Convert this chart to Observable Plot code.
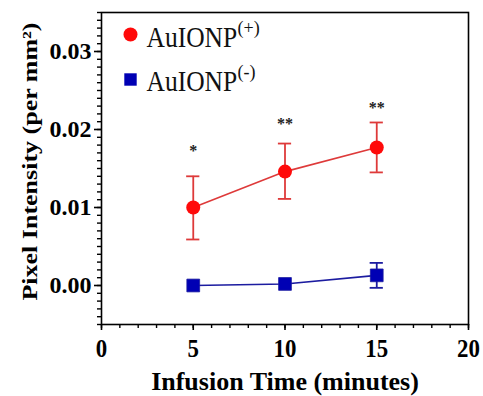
<!DOCTYPE html>
<html>
<head>
<meta charset="utf-8">
<script src="https://cdn.jsdelivr.net/npm/d3@7"></script>
<script src="https://cdn.jsdelivr.net/npm/@observablehq/plot@0.6"></script>
<style>
  html, body { margin: 0; padding: 0; background: #fff; }
  #chart svg { display: block; }
</style>
</head>
<body>
<div id="chart"></div>
<script>
// ---- data ----
const times = [5, 10, 15];
const seriesNames = ["AuIONP", "AuIONP"];
const seriesSup = ["(+)", "(-)"];
const posMean = [0.0100, 0.0146, 0.0177];
const posLow  = [0.0059, 0.0111, 0.0145];
const posHigh = [0.0140, 0.0182, 0.0209];
const negMean = [0.0000, 0.0002, 0.0013];
const negLow  = [0.0000, 0.0002, -0.0003];
const negHigh = [0.0000, 0.0002, 0.0029];
const stars   = ["*", "**", "**"];
const starY   = [0.0172, 0.0207, 0.0228];
const xTicks = [0, 5, 10, 15, 20];
const yTicks = [0.00, 0.01, 0.02, 0.03];
const xLabel = "Infusion Time (minutes)";
const yLabel = "Pixel Intensity (per mm²)";

const pos = times.map((t, i) => ({x: t, y: posMean[i], lo: posLow[i], hi: posHigh[i]}));
const neg = times.map((t, i) => ({x: t, y: negMean[i], lo: negLow[i], hi: negHigh[i]}));
const negErr = neg.filter(d => d.hi > d.lo);
const starData = times.map((t, i) => ({x: t, y: starY[i], s: stars[i]}));
const xMinor = d3.range(0, 20.001, 1);
const yMinor = d3.range(-5, 36, 1).map(v => v / 1000);

const RED = "#ff0a0a", REDLINE = "#de3a3a";
const BLUE = "#0000b4", BLUELINE = "#1c1ca0";
const FONT = "'Liberation Serif', 'Times New Roman', serif";
const capHalf = 0.36;
const fmtY = d3.format(".2f");
const fmtX = d3.format("d");

const chart = Plot.plot({
  width: 483,
  height: 396,
  marginLeft: 101,
  marginRight: 15,
  marginTop: 12,
  marginBottom: 72,
  style: {fontFamily: FONT, background: "#fff", color: "#000"},
  x: {domain: [0, 20], label: null},
  y: {domain: [-0.005, 0.035], label: null},
  marks: [
    Plot.frame({stroke: "#000", strokeWidth: 1.6}),
    Plot.axisY({ticks: yMinor, tickSize: 4, tickFormat: () => "", strokeWidth: 1.4}),
    Plot.axisY({ticks: yTicks, tickSize: 7, tickFormat: () => "", strokeWidth: 1.6}),
    Plot.axisX({ticks: xMinor, tickSize: 4, tickFormat: () => "", strokeWidth: 1.4}),
    Plot.axisX({ticks: xTicks, tickSize: 6, tickFormat: () => "", strokeWidth: 1.6}),
    // tick labels
    Plot.text(yTicks, {y: d => d, frameAnchor: "left", dx: -10, textAnchor: "end", lineAnchor: "middle",
      text: d => fmtY(d), fontSize: 24, fontWeight: "bold", fill: "#000"}),
    Plot.text(xTicks, {x: d => d, frameAnchor: "bottom", dy: 24, textAnchor: "middle", lineAnchor: "middle",
      text: d => fmtX(d), fontSize: 26, fontWeight: "bold", fill: "#000"}),
    // red series
    Plot.ruleX(pos, {x: "x", y1: "lo", y2: "hi", stroke: REDLINE, strokeWidth: 1.8}),
    Plot.ruleY(pos, {y: "lo", x1: d => d.x - capHalf, x2: d => d.x + capHalf, stroke: REDLINE, strokeWidth: 1.8}),
    Plot.ruleY(pos, {y: "hi", x1: d => d.x - capHalf, x2: d => d.x + capHalf, stroke: REDLINE, strokeWidth: 1.8}),
    Plot.line(pos, {x: "x", y: "y", stroke: REDLINE, strokeWidth: 1.6}),
    Plot.dot(pos, {x: "x", y: "y", r: 7, fill: RED, symbol: "circle"}),
    // blue series
    Plot.ruleX(negErr, {x: "x", y1: "lo", y2: "hi", stroke: BLUELINE, strokeWidth: 1.8}),
    Plot.ruleY(negErr, {y: "lo", x1: d => d.x - capHalf, x2: d => d.x + capHalf, stroke: BLUELINE, strokeWidth: 1.8}),
    Plot.ruleY(negErr, {y: "hi", x1: d => d.x - capHalf, x2: d => d.x + capHalf, stroke: BLUELINE, strokeWidth: 1.8}),
    Plot.line(neg, {x: "x", y: "y", stroke: BLUELINE, strokeWidth: 1.6}),
    Plot.dot(neg, {x: "x", y: "y", r: 7.2, fill: BLUE, stroke: BLUELINE, strokeWidth: 0.8, symbol: "square"}),
    // significance stars
    Plot.text(starData, {x: "x", y: "y", text: "s", fontSize: 16, fontWeight: "bold", fill: "#222"}),
    // legend
    Plot.dot([0], {frameAnchor: "top-left", dx: 29, dy: 22, r: 7, fill: RED, symbol: "circle"}),
    Plot.dot([0], {frameAnchor: "top-left", dx: 29, dy: 67, r: 7, fill: BLUE, symbol: "square"}),
    Plot.text([seriesNames[0]], {frameAnchor: "top-left", dx: 45, dy: 24.5, textAnchor: "start", lineAnchor: "middle", fontSize: 30, fill: "#111"}),
    Plot.text([seriesSup[0]], {frameAnchor: "top-left", dx: 136, dy: 16.2, textAnchor: "start", lineAnchor: "middle", fontSize: 18, fill: "#111"}),
    Plot.text([seriesNames[1]], {frameAnchor: "top-left", dx: 45, dy: 68.5, textAnchor: "start", lineAnchor: "middle", fontSize: 30, fill: "#111"}),
    Plot.text([seriesSup[1]], {frameAnchor: "top-left", dx: 136, dy: 59.7, textAnchor: "start", lineAnchor: "middle", fontSize: 18, fill: "#111"}),
    // axis titles
    Plot.text([xLabel], {frameAnchor: "bottom", dy: 57, textAnchor: "middle", lineAnchor: "middle", fontSize: 26, fontWeight: "bold", fill: "#000"}),
    Plot.text([yLabel], {frameAnchor: "left", dx: -71, dy: -7, rotate: -90, textAnchor: "middle", lineAnchor: "middle", fontSize: 26, fontWeight: "bold", fill: "#000"})
  ]
});

// mimic the slightly condensed glyphs of the reference
const svg = d3.select(chart);
svg.selectAll("text").each(function () {
  const tr = this.getAttribute("transform") || "";
  const txt = this.textContent;
  let s = null;
  if (/rotate/.test(tr)) s = "scale(1,0.82)";
  else if (/^\d+$/.test(txt)) s = "scale(0.88,1)";
  else if (txt === "AuIONP") s = "scale(0.85,1)";
  if (s) {
    const x = this.getAttribute("x"), y = this.getAttribute("y");
    let pre = "";
    if (x != null && !/em$/.test(x)) {
      pre = `translate(${x},${(y != null && !/em$/.test(y)) ? y : 0}) `;
      this.removeAttribute("x");
      if (y != null && !/em$/.test(y)) this.removeAttribute("y");
    }
    this.setAttribute("transform", pre + tr + " " + s);
  }
});

document.getElementById("chart").appendChild(chart);
</script>
</body>
</html>
